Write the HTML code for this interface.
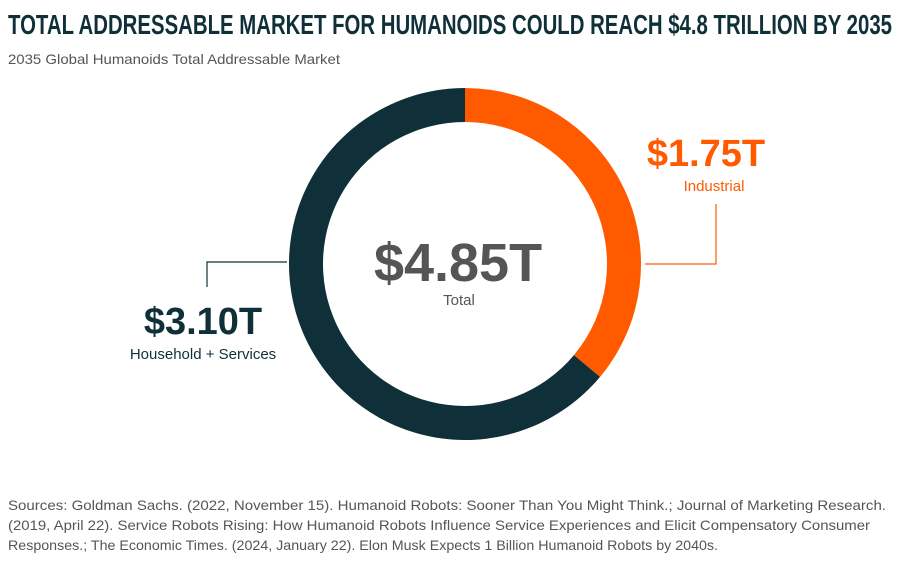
<!DOCTYPE html>
<html><head><meta charset="utf-8"><style>
body{margin:0;background:#fff;width:900px;height:556px;overflow:hidden;font-family:"Liberation Sans",sans-serif;}
svg text{font-family:"Liberation Sans Narrow","Liberation Sans",sans-serif;}
</style></head><body>
<svg width="900" height="556" viewBox="0 0 900 556">
<text x="8" y="34" font-size="28" font-weight="bold" fill="#0f3038" textLength="884" lengthAdjust="spacingAndGlyphs">TOTAL ADDRESSABLE MARKET FOR HUMANOIDS COULD REACH $4.8 TRILLION BY 2035</text>
<text x="8" y="64" font-size="14" fill="#555" textLength="332" lengthAdjust="spacingAndGlyphs">2035 Global Humanoids Total Addressable Market</text>
<g id="donut"></g>
<polyline points="645,264 716,264 716,204" fill="none" stroke="#ff5a00" stroke-width="1.2"/>
<polyline points="287,262 207,262 207,287" fill="none" stroke="#0f3038" stroke-width="1.2"/>
<text x="706" y="166" font-size="38" font-weight="bold" fill="#ff5a00" text-anchor="middle">$1.75T</text>
<text x="714" y="191" font-size="15" fill="#ff5a00" text-anchor="middle">Industrial</text>
<text x="458" y="281" font-size="54" font-weight="bold" fill="#555" text-anchor="middle">$4.85T</text>
<text x="459" y="305" font-size="15" fill="#555" text-anchor="middle">Total</text>
<text x="203" y="334" font-size="38" font-weight="bold" fill="#0f3038" text-anchor="middle">$3.10T</text>
<text x="203" y="359" font-size="15" fill="#0f3038" text-anchor="middle">Household + Services</text>
<g font-size="14" fill="#555">
<text x="8" y="510" textLength="878" lengthAdjust="spacingAndGlyphs">Sources: Goldman Sachs. (2022, November 15). Humanoid Robots: Sooner Than You Might Think.; Journal of Marketing Research.</text>
<text x="8" y="530" textLength="862" lengthAdjust="spacingAndGlyphs">(2019, April 22). Service Robots Rising: How Humanoid Robots Influence Service Experiences and Elicit Compensatory Consumer</text>
<text x="8" y="550" textLength="710" lengthAdjust="spacingAndGlyphs">Responses.; The Economic Times. (2024, January 22). Elon Musk Expects 1 Billion Humanoid Robots by 2040s.</text>
</g>
</svg>
<script>
const categories = ["Industrial", "Household + Services"];
const values = [1.75, 3.10];
const colors = ["#ff5a00", "#0f3038"];
const cx = 465, cy = 264, rOut = 176, rIn = 142;
const g = document.getElementById('donut');
const total = values.reduce((a, b) => a + b, 0);
function pt(r, a){ return [cx + r*Math.sin(a), cy - r*Math.cos(a)]; }
let start = 0;
values.forEach((v, i) => {
  const end = start + v/total*2*Math.PI;
  const large = (end - start) > Math.PI ? 1 : 0;
  const [x1,y1] = pt(rOut,start), [x2,y2] = pt(rOut,end), [x3,y3] = pt(rIn,end), [x4,y4] = pt(rIn,start);
  const p = document.createElementNS('http://www.w3.org/2000/svg','path');
  p.setAttribute('d', `M${x1},${y1} A${rOut},${rOut} 0 ${large} 1 ${x2},${y2} L${x3},${y3} A${rIn},${rIn} 0 ${large} 0 ${x4},${y4} Z`);
  p.setAttribute('fill', colors[i]);
  
  
  g.appendChild(p);
  start = end;
});
</script>
</body></html>
